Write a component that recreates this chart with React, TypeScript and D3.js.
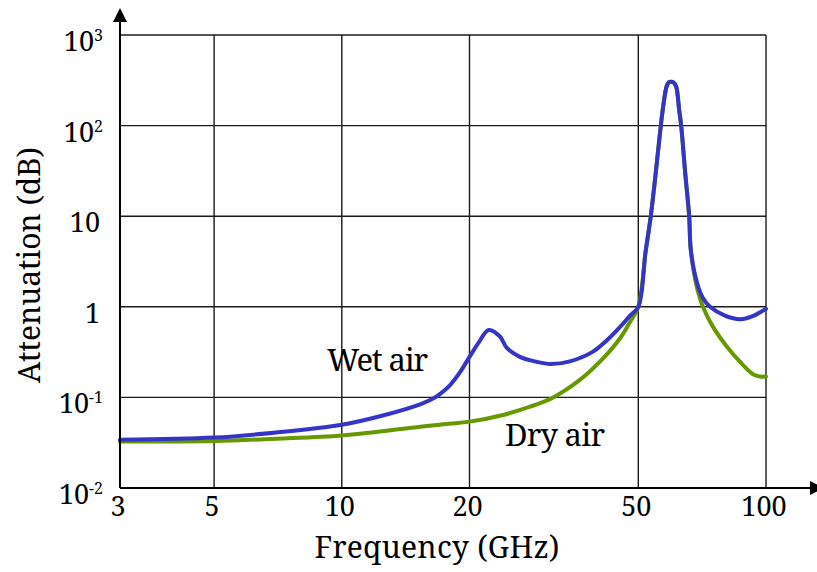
import React from "react";
import * as d3 from "d3";

const xTicks = [3, 5, 10, 20, 50, 100];
const yTicks = [0.01, 0.1, 1, 10, 100, 1000];
const yTickBase = ["10", "10", "1", "10", "10", "10"];
const yTickSup = ["-2", "-1", "", "", "2", "3"];

const wetFreq = [3, 5, 7, 10, 12.3, 15.3, 16.2, 17, 18, 19, 20, 21, 22.2, 23.6, 24.5, 26.3, 28.8, 31, 34.5, 39.1, 42, 45.3, 47.8, 50, 52, 53.5, 55, 56.5, 57.2, 58.3, 59, 59.7, 60.5, 61.4, 62.4, 63.1, 64.5, 65.9, 66.5, 68.8, 71, 73.8, 80, 87, 93, 100];
const wetAtt = [0.034, 0.036, 0.041, 0.05, 0.062, 0.084, 0.094, 0.108, 0.137, 0.19, 0.28, 0.4, 0.555, 0.47, 0.351, 0.28, 0.247, 0.234, 0.25, 0.32, 0.42, 0.6, 0.8, 1.0, 4.0, 10, 31, 100, 160, 270, 300, 305, 300, 270, 150, 100, 30, 10, 4.2, 1.83, 1.25, 1.0, 0.8, 0.73, 0.79, 0.95];

const dryFreq = [3, 5, 7, 10, 15.3, 17, 20, 24, 27.8, 31.5, 36.4, 41.3, 45.3, 47.8, 50, 52, 53.5, 55, 56.5, 57.2, 58.3, 59, 59.7, 60.5, 61.4, 62.4, 63.1, 64.5, 65.9, 66.5, 68.8, 71, 75, 81, 86.9, 93.2, 96.7, 100];
const dryAtt = [0.0325, 0.033, 0.035, 0.038, 0.0475, 0.05, 0.054, 0.064, 0.079, 0.1, 0.156, 0.27, 0.45, 0.68, 1.0, 4.0, 10, 31, 100, 160, 270, 300, 305, 300, 270, 150, 100, 30, 10, 4.2, 1.6, 1.0, 0.6, 0.36, 0.246, 0.18, 0.17, 0.17];

const W = 817;
const H = 572;
const left = 120;
const right = 766;
const top = 35;
const bottom = 488;
const font = "'Noto Serif', 'DejaVu Serif', serif";

export default function App() {
  const x = d3.scaleLog().domain([3, 100]).range([left, right]);
  const y = d3.scaleLog().domain([0.01, 1000]).range([bottom, top]);

  const line = d3
    .line<[number, number]>()
    .x((d) => x(d[0]))
    .y((d) => y(d[1]))
    .curve(d3.curveCatmullRom.alpha(0.5));

  const wet = line(wetFreq.map((f, i) => [f, wetAtt[i]] as [number, number])) || "";
  const dry = line(dryFreq.map((f, i) => [f, dryAtt[i]] as [number, number])) || "";

  return (
    <svg width={W} height={H} style={{ position: "absolute", left: 0, top: 0, background: "#fff", fontFamily: font }}>
      <rect x={0} y={0} width={W} height={H} fill="#fff" />
      {xTicks.slice(1).map((t) => (
        <line key={"gx" + t} x1={x(t)} x2={x(t)} y1={top} y2={bottom} stroke="#1a1a1a" strokeWidth={1.4} />
      ))}
      {yTicks.slice(1).map((t) => (
        <line key={"gy" + t} x1={left} x2={right} y1={y(t)} y2={y(t)} stroke="#1a1a1a" strokeWidth={1.4} />
      ))}
      <path d={dry} fill="none" stroke="#669900" strokeWidth={4} strokeLinejoin="round" strokeLinecap="round" />
      <path d={wet} fill="none" stroke="#3434c8" strokeWidth={4} strokeLinejoin="round" strokeLinecap="round" />
      <line x1={left} x2={left} y1={bottom} y2={20} stroke="#000" strokeWidth={2} />
      <path d={`M${left - 7},22 L${left + 7},22 L${left},8 Z`} fill="#000" />
      <line x1={left} x2={810} y1={bottom} y2={bottom} stroke="#000" strokeWidth={2} />
      <path d={`M810,${bottom - 7} L810,${bottom + 7} L824,${bottom} Z`} fill="#000" />
      {xTicks.map((t) => (
        <text key={"xt" + t} x={x(t) - 2} y={516} fontSize={27} textAnchor="middle" fill="#000">
          {t}
        </text>
      ))}
      {yTicks.map((t, i) =>
        yTickSup[i] ? (
          <text key={"yt" + t} x={103} y={y(t) + 16} fontSize={27} textAnchor="end" fill="#000">
            {yTickBase[i]}
            <tspan fontSize={16} dy={-10}>
              {yTickSup[i]}
            </tspan>
          </text>
        ) : (
          <text key={"yt" + t} x={100} y={y(t) + 16} fontSize={27} textAnchor="end" fill="#000">
            {yTickBase[i]}
          </text>
        )
      )}
      <text x={437} y={558} fontSize={30} textAnchor="middle" fill="#000" textLength={245}>
        Frequency (GHz)
      </text>
      <text transform={`translate(40,265) rotate(-90)`} fontSize={30} textAnchor="middle" fill="#000" textLength={236}>
        Attenuation (dB)
      </text>
      <text x={327} y={371} fontSize={31} fill="#000" textLength={101}>
        Wet air
      </text>
      <text x={505} y={446} fontSize={31} fill="#000" textLength={100}>
        Dry air
      </text>
    </svg>
  );
}
